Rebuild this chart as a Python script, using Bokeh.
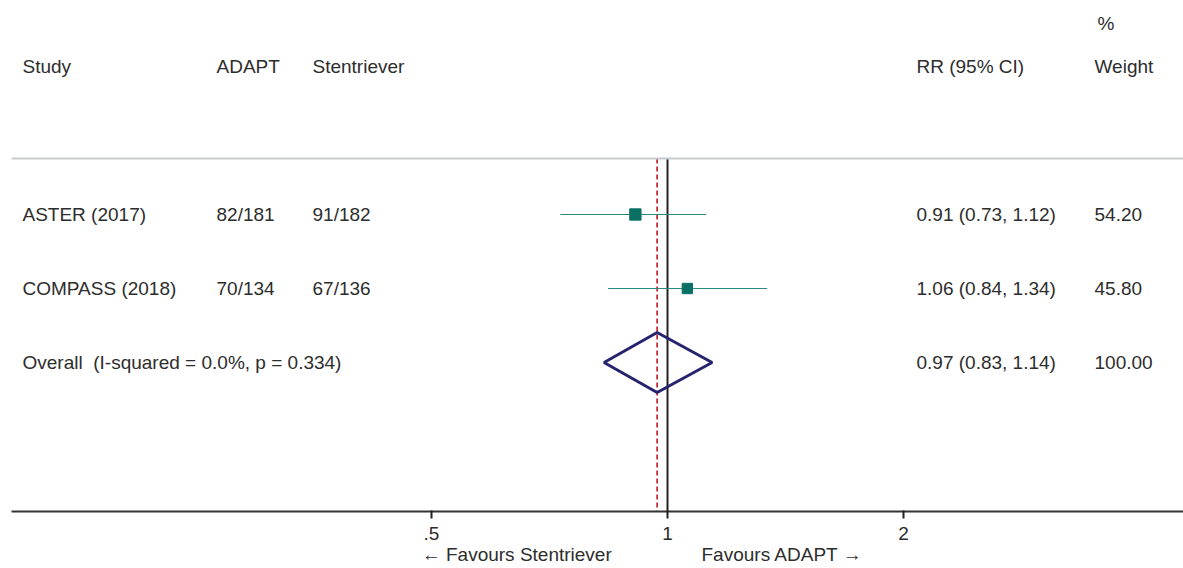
import numpy as np
from bokeh.plotting import figure
from bokeh.models import Range1d, FixedTicker, Label, Span, LinearScale
from bokeh.embed import file_html
from bokeh.resources import INLINE

# ---- data ----
studies = ["ASTER (2017)", "COMPASS (2018)"]
adapt_events = ["82/181", "70/134"]
stent_events = ["91/182", "67/136"]
rr = [0.91, 1.06]
rr_lo = [0.73, 0.84]
rr_hi = [1.12, 1.34]
weights = [54.20, 45.80]
study_rows = [2, 3]

overall_label = "Overall\u00a0 (I-squared = 0.0%, p = 0.334)"
overall_rr = 0.97
overall_lo = 0.83
overall_hi = 1.14
overall_weight = 100.00
overall_row = 4

tick_values = [0.5, 1, 2]
tick_labels = [".5", "1", "2"]

headers = ["Study", "ADAPT", "Stentriever", "RR (95% CI)", "Weight"]
header_top = "%"
favours_left = "\u2190 Favours Stentriever"
favours_right = "Favours ADAPT \u2192"

# ---- styling ----
FONT = "Liberation Sans"
FS = "19px"
TXT = "#2d2d2d"
col_px = [22, 216, 312, 916, 1094]
NB = "\u00a0"

W, H = 1183, 568
p = figure(width=W, height=H, x_axis_type="log",
           x_range=Range1d(2 ** ((11 - 667) / 236.0), 2 ** ((1183 - 667) / 236.0)),
           y_range=Range1d(start=(511 - 66) / 74.0, end=-66 / 74.0),
           output_backend="svg", toolbar_location=None,
           min_border_left=11, min_border_right=0, min_border_top=0,
           min_border_bottom=57)
p.extra_x_ranges["px"] = Range1d(11, 1183)
p.extra_x_scales["px"] = LinearScale()
p.outline_line_color = None
p.grid.visible = False
p.yaxis.visible = False
p.background_fill_color = "white"
p.border_fill_color = "white"

ax = p.xaxis[0]
ax.ticker = FixedTicker(ticks=tick_values, minor_ticks=[])
ax.major_label_overrides = dict(zip(tick_values, tick_labels))
ax.axis_line_color = "#333333"
ax.axis_line_width = 2
ax.major_tick_line_color = "#222222"
ax.major_tick_line_width = 2
ax.major_tick_out = 7
ax.major_tick_in = 1
ax.minor_tick_line_color = None
ax.major_label_standoff = 8
ax.major_label_text_font = FONT
ax.major_label_text_font_size = FS
ax.major_label_text_color = TXT
# favours captions as the axis label (left part, gap, right part), shifted right of centre
ax.axis_label = NB * 17 + favours_left + NB * 17 + favours_right
ax.axis_label_text_font = FONT
ax.axis_label_text_font_size = FS
ax.axis_label_text_font_style = "normal"
ax.axis_label_text_color = TXT
ax.axis_label_standoff = 1

line_row = (158 - 66) / 74.0
axis_row = (511 - 66) / 74.0

# gray separator
p.add_layout(Span(location=line_row, dimension="width", line_color="#c6cbd0", line_width=2))

# reference lines
p.segment(x0=[1], x1=[1], y0=[line_row], y1=[axis_row], line_color="#222222", line_width=2)
p.segment(x0=[overall_rr], x1=[overall_rr], y0=[line_row], y1=[axis_row],
          line_color="#c0272d", line_width=1.7, line_dash="5 3")

# CIs and boxes
p.segment(x0=rr_lo, x1=rr_hi, y0=study_rows, y1=study_rows, line_color="#2b8a7f", line_width=1.2)
sizes = [11.3 * np.sqrt(w / max(weights)) for w in weights]
p.scatter(x=rr, y=study_rows, marker="square", size=sizes, fill_color="#0b7064",
          line_color="#0b7064")

# overall diamond
dh = 0.405
p.patch(x=[overall_lo, overall_rr, overall_hi, overall_rr],
        y=[overall_row, overall_row - dh, overall_row, overall_row + dh],
        fill_color=None, line_color="#27246f", line_width=3)

def lab(x, y, t):
    p.add_layout(Label(x=x, y=y, text=t, x_range_name="px", text_font=FONT,
                       text_font_size=FS, text_color=TXT, text_baseline="middle",
                       text_align="left"))

# header
for cx, h in zip(col_px, headers):
    lab(cx, 0, h)
lab(1097, (23 - 66) / 74.0, header_top)

# rows
for s, a, st, r, l, hh, w, row in zip(studies, adapt_events, stent_events, rr, rr_lo, rr_hi,
                                      weights, study_rows):
    lab(col_px[0], row, s)
    lab(col_px[1], row, a)
    lab(col_px[2], row, st)
    lab(col_px[3], row, f"{r:.2f} ({l:.2f}, {hh:.2f})")
    lab(col_px[4], row, f"{w:.2f}")

lab(col_px[0], overall_row, overall_label)
lab(col_px[3], overall_row, f"{overall_rr:.2f} ({overall_lo:.2f}, {overall_hi:.2f})")
lab(col_px[4], overall_row, f"{overall_weight:.2f}")

open("out.html", "w").write(file_html(p, INLINE))
